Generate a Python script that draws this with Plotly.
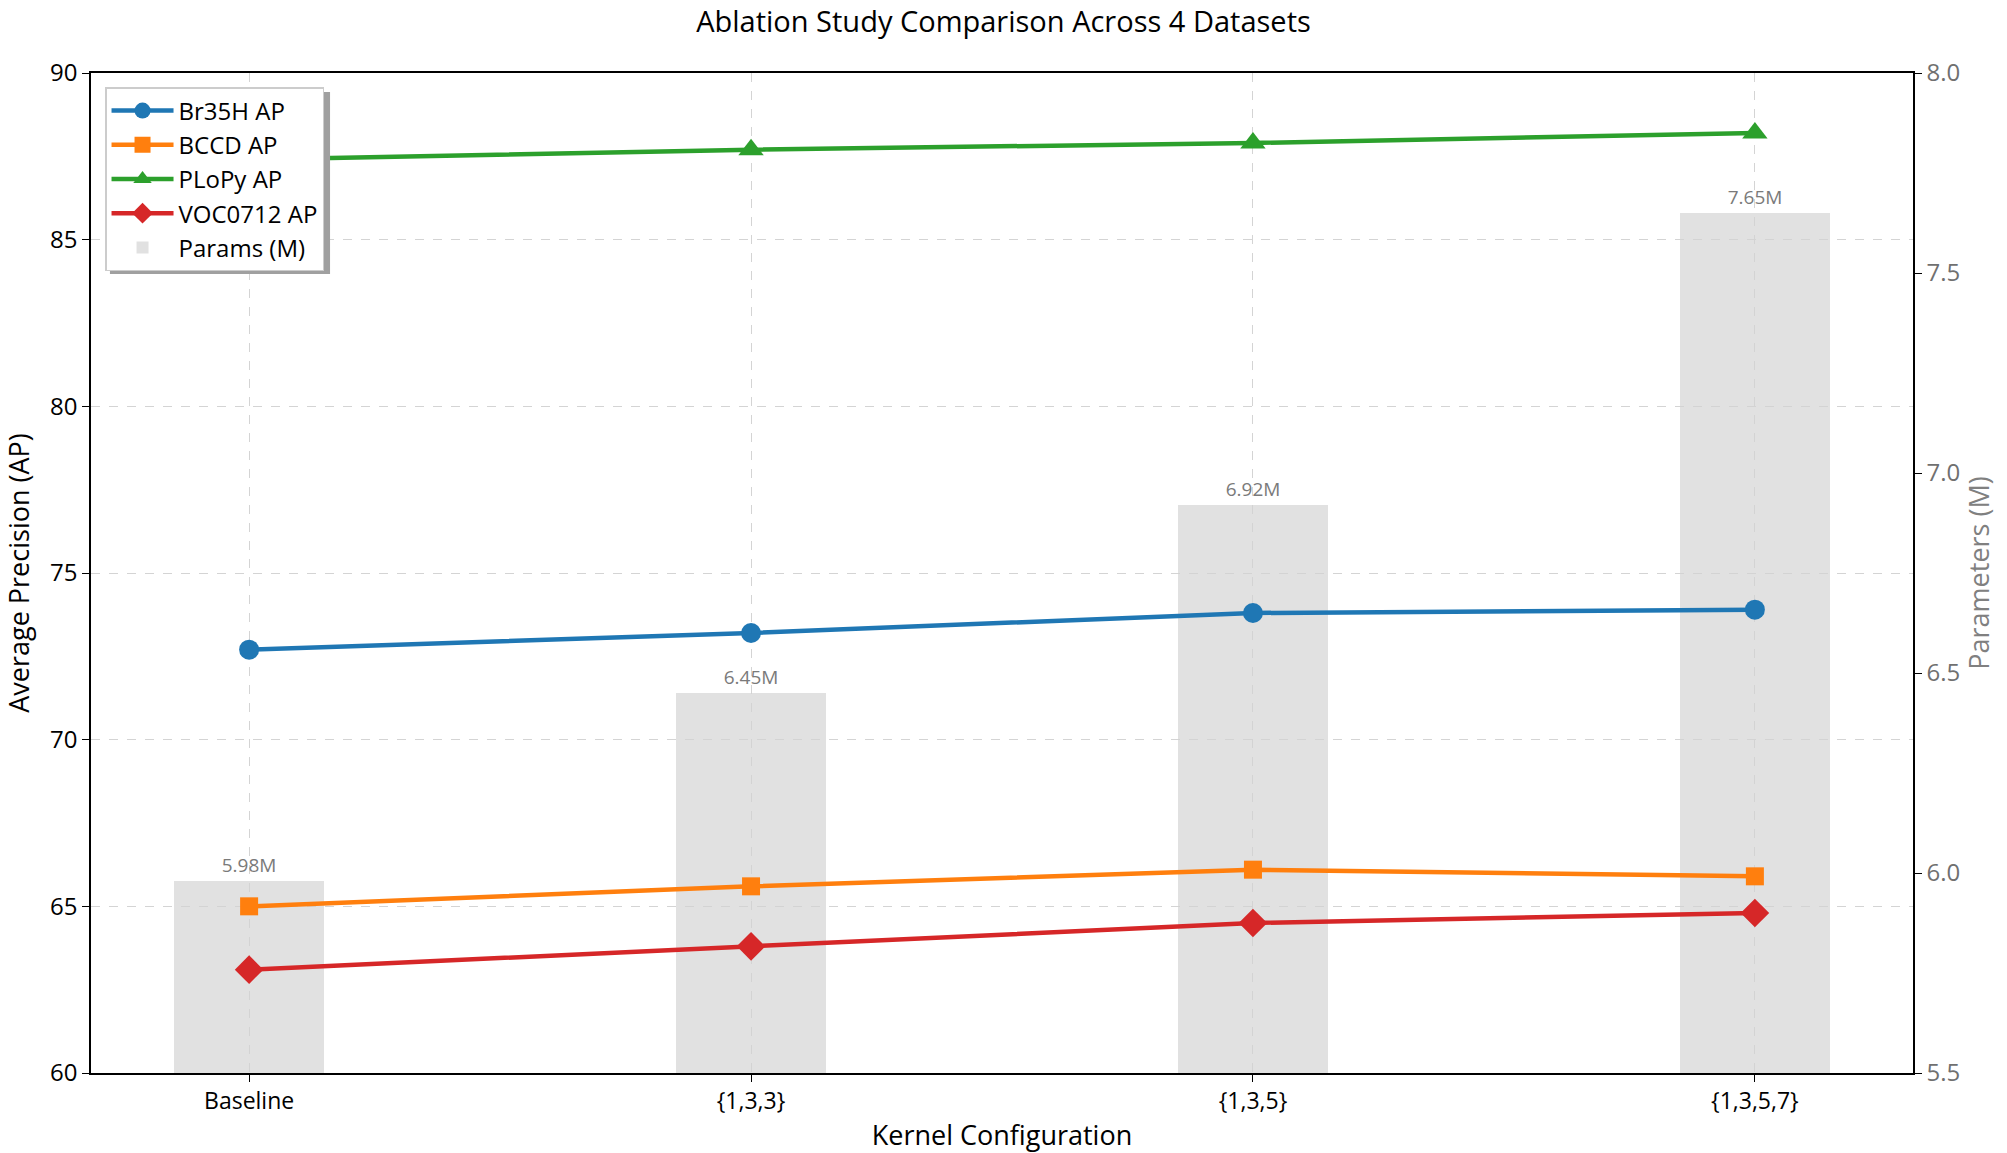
import plotly.graph_objects as go

# ---- data ----
categories = ["Baseline", "{1,3,3}", "{1,3,5}", "{1,3,5,7}"]
br35h_ap = [72.7, 73.2, 73.8, 73.9]
bccd_ap = [65.0, 65.6, 66.1, 65.9]
plopy_ap = [87.4, 87.7, 87.9, 88.2]
voc0712_ap = [63.1, 63.8, 64.5, 64.8]
params_m = [5.98, 6.45, 6.92, 7.65]

series_names = ["Br35H AP", "BCCD AP", "PLoPy AP", "VOC0712 AP"]
series_values = [br35h_ap, bccd_ap, plopy_ap, voc0712_ap]
series_colors = ["#1f77b4", "#ff7f0e", "#2ca02c", "#d62728"]
series_symbols = ["circle", "square", "triangle-up", "diamond"]
series_sizes = [20, 18, 22, 22]

ap_ticks = [60, 65, 70, 75, 80, 85, 90]
param_ticks = [5.5, 6.0, 6.5, 7.0, 7.5, 8.0]
param_labels = [f"{v:.2f}M" for v in params_m]

FONT = "'Open Sans', Roboto, sans-serif"

fig = go.Figure()

fig.add_trace(go.Bar(
    x=categories, y=params_m, name="Params (M)", yaxis="y",
    width=0.3, marker=dict(color="rgba(211,211,211,0.68)", line=dict(width=0)),
    text=param_labels, textposition="outside", cliponaxis=False,
    textfont=dict(size=19, color="#7a7a7a", family=FONT),
    legendrank=5,
))

for i, (name, vals) in enumerate(zip(series_names, series_values)):
    fig.add_trace(go.Scatter(
        x=categories, y=vals, name=name, yaxis="y2", mode="lines+markers",
        line=dict(color=series_colors[i], width=4.5),
        marker=dict(symbol=series_symbols[i], size=series_sizes[i], color=series_colors[i]),
        legendrank=i + 1,
    ))

# legend drop shadow (decoration)
fig.add_shape(type="rect", xref="paper", yref="paper",
              x0=0.0104, x1=0.1312, y0=0.799, y1=0.981,
              fillcolor="#a0a0a0", line=dict(width=0), layer="above")

fig.update_layout(
    width=2007, height=1153,
    margin=dict(l=91, r=94, t=73, b=80),
    paper_bgcolor="white", plot_bgcolor="white",
    font=dict(family=FONT, color="black"),
    title=dict(text="Ablation Study Comparison Across 4 Datasets",
               x=0.5, xanchor="center", y=0.981, yanchor="middle",
               font=dict(size=29, color="black")),
    bargap=0,
    showlegend=True,
    legend=dict(x=0.0077, y=0.986, xanchor="left", yanchor="top",
                bgcolor="white", bordercolor="#cccccc", borderwidth=1.5,
                font=dict(size=24), itemwidth=62, traceorder="normal"),
    xaxis=dict(type="category", range=[-0.315, 3.315], automargin=False,
               showline=True, linecolor="black", linewidth=1.5, mirror=True,
               ticks="outside", ticklen=7, tickcolor="black",
               tickfont=dict(size=23),
               showgrid=True, gridcolor="#d4d4d4", griddash="dash", gridwidth=1.3,
               zeroline=False,
               title=dict(text="Kernel Configuration", font=dict(size=27), standoff=12)),
    yaxis=dict(side="right", range=[5.5, 8.0], tickvals=param_ticks, automargin=False,
               ticktext=[f"{t:.1f}" for t in param_ticks],
               showgrid=False, zeroline=False,
               showline=True, linecolor="black", linewidth=1.5,
               ticks="outside", ticklen=7, tickcolor="black",
               tickfont=dict(size=24, color="#707070"),
               title=dict(text="Parameters (M)", font=dict(size=27, color="#808080"), standoff=0)),
    yaxis2=dict(overlaying="y", side="left", range=[60, 90], tickvals=ap_ticks, automargin=False,
                showgrid=True, gridcolor="#d4d4d4", griddash="dash", gridwidth=1.3,
                zeroline=False,
                showline=True, linecolor="black", linewidth=1.5,
                ticks="outside", ticklen=7, tickcolor="black",
                tickfont=dict(size=24),
                title=dict(text="Average Precision (AP)", font=dict(size=27), standoff=16)),
)

fig.write_html("out.html", config={"displayModeBar": False},
               post_script="document.body.style.margin='0';document.body.style.overflow='hidden';")
